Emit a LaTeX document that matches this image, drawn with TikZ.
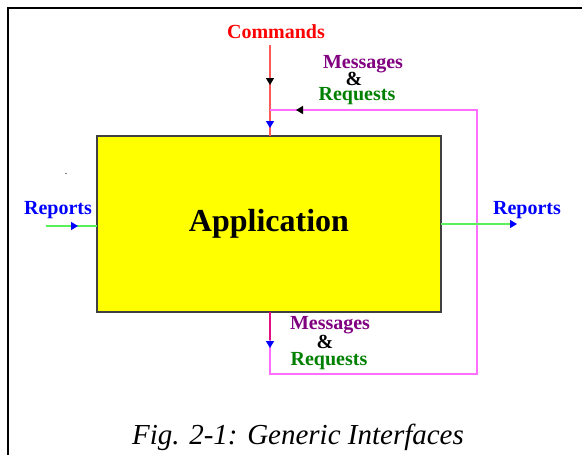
\documentclass[tikz,border=0pt]{standalone}
\usepackage{fontspec}
\setmainfont{Liberation Serif}
\usetikzlibrary{arrows.meta,decorations.markings}
\definecolor{cmdred}{RGB}{255,90,90}
\definecolor{loopmag}{RGB}{255,110,255}
\definecolor{rptgreen}{RGB}{90,240,90}
\definecolor{msgpurple}{RGB}{128,0,128}
\definecolor{reqgreen}{RGB}{0,128,0}
\definecolor{boxyellow}{RGB}{255,255,0}
\tikzset{
  lbl/.style={font=\bfseries\fontsize{20}{22}\selectfont, inner sep=0pt, anchor=base,
              text height=12pt, text depth=0pt},
  tipmark/.style n args={3}{postaction={decorate,decoration={markings,
      mark=at position #1 with {\arrow[#2]{Triangle[length=7pt,width=8pt]}}}}},
  flow/.style={line width=1.2pt},
}
\begin{document}
\begin{tikzpicture}[x=1pt,y=-1pt]
  \useasboundingbox (0,0) rectangle (582,455);
  % page frame
  \draw[line width=2.2pt] (7.7,455) -- (7.7,7.7) -- (582,7.7);
  \fill (66,173.5) circle (0.7);

  % the application block
  \node[draw=black!75, line width=1.4pt, fill=boxyellow, minimum width=344pt, minimum height=176pt,
        inner sep=0pt, font=\bfseries\fontsize{32}{35}\selectfont] (app) at (269,224) {Application};

  % labels (placed by their baselines)
  \node[lbl, text=red] (cmd) at (276,38) {Commands};
  \node[lbl, text=msgpurple] (msgT) at (363,68) {Messages};
  \node[lbl] (ampT) at (354,85) {\&};
  \node[lbl, text=reqgreen] (reqT) at (357,100.5) {Requests};
  \node[lbl, text=msgpurple] (msgB) at (330,329) {Messages};
  \node[lbl] (ampB) at (325,348) {\&};
  \node[lbl, text=reqgreen] (reqB) at (329,365.5) {Requests};
  \node[lbl, text=blue] (repL) at (58,214) {Reports};
  \node[lbl, text=blue] (repR) at (527,214) {Reports};

  % connector end points
  \coordinate (cmdtop) at (270,45);
  \coordinate (appN) at (270,136);
  \coordinate (appS) at (270,312);
  \coordinate (j) at (270,110);
  \coordinate (lb) at (270,374);
  \coordinate (rb) at (477,374);
  \coordinate (rt) at (477,110);
  \coordinate (inL) at (46,226);
  \coordinate (appW) at (97,226);
  \coordinate (appE) at (441,224);
  \coordinate (outR) at (517,224);

  % commands into the application
  \draw[flow, cmdred, tipmark={40pt}{black}{}, tipmark={83pt}{blue}{}] (cmdtop) -- (appN);
  % messages & requests loop
  \draw[flow, loopmag, tipmark={36pt}{blue}{}, tipmark={714pt}{black}{}]
    (appS) -- (lb) -- (rb) -- (rt) -- (j);
  \draw[flow, magenta!80!purple] (appS) -- ++(0,28);
  % reports in and out
  \draw[flow, rptgreen, tipmark={32pt}{blue}{}] (inL) -- (appW);
  \draw[flow, rptgreen, -{Triangle[length=7pt,width=8pt,color=blue]}] (appE) -- (outR);

  % caption
  \node[font=\itshape\fontsize{29}{32}\selectfont, inner sep=0pt] (cap) at (298,437) {Fig. 2-1: Generic Interfaces};
\end{tikzpicture}
\end{document}
